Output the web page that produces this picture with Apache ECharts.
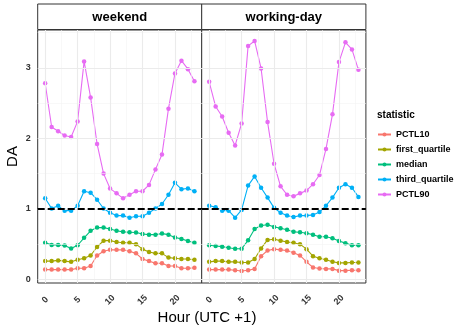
<!DOCTYPE html>
<html><head><meta charset="utf-8">
<script src="https://cdn.jsdelivr.net/npm/echarts@6/dist/echarts.min.js"></script>
<style>html,body{margin:0;padding:0;background:#fff}#c{width:459px;height:330px}</style>
</head><body><div id="c"></div>
<script>
const hours = [0,1,2,3,4,5,6,7,8,9,10,11,12,13,14,15,16,17,18,19,20,21,22,23];
const panels = ['weekend','working-day'];
const statNames = ['PCTL10','first_quartile','median','third_quartile','PCTL90'];
const statColors = ['#F8766D','#A3A500','#00BF7D','#00B0F6','#E76BF3'];
const xTicks = [0,5,10,15,20];
const yTicks = [0,1,2,3];
const refLine = 1;

const weekend_PCTL10 = [0.14,0.14,0.14,0.14,0.14,0.16,0.16,0.19,0.34,0.40,0.42,0.42,0.42,0.40,0.37,0.29,0.26,0.23,0.23,0.19,0.19,0.16,0.16,0.165];
const weekend_first_quartile = [0.26,0.26,0.27,0.26,0.25,0.28,0.30,0.34,0.46,0.55,0.55,0.53,0.52,0.52,0.50,0.43,0.39,0.37,0.37,0.31,0.30,0.29,0.29,0.28];
const weekend_median = [0.52,0.49,0.49,0.48,0.44,0.485,0.59,0.69,0.735,0.735,0.715,0.69,0.675,0.67,0.665,0.645,0.635,0.635,0.65,0.635,0.595,0.575,0.545,0.52];
const weekend_third_quartile = [1.15,1.005,1.045,0.975,0.975,1.045,1.25,1.23,1.13,1.005,0.945,0.905,0.905,0.875,0.895,0.895,0.945,1.005,1.07,1.20,1.37,1.28,1.29,1.25];
const weekend_PCTL90 = [2.78,2.16,2.10,2.04,2.02,2.24,3.09,2.58,1.92,1.50,1.29,1.22,1.15,1.20,1.25,1.25,1.34,1.56,1.77,2.42,2.92,3.10,2.98,2.81];

const working_PCTL10 = [0.14,0.14,0.14,0.14,0.13,0.12,0.13,0.15,0.33,0.41,0.43,0.42,0.41,0.38,0.34,0.25,0.17,0.155,0.15,0.15,0.125,0.125,0.13,0.13];
const working_first_quartile = [0.25,0.26,0.26,0.25,0.25,0.24,0.24,0.29,0.44,0.56,0.57,0.55,0.53,0.52,0.50,0.43,0.33,0.30,0.28,0.25,0.235,0.235,0.24,0.24];
const working_median = [0.485,0.475,0.465,0.45,0.435,0.435,0.555,0.715,0.765,0.775,0.745,0.725,0.705,0.675,0.67,0.655,0.635,0.605,0.605,0.585,0.545,0.515,0.485,0.485];
const working_third_quartile = [1.045,1.025,0.975,0.975,0.875,0.985,1.33,1.46,1.30,1.16,1.015,0.945,0.905,0.885,0.905,0.905,0.915,0.955,1.045,1.16,1.30,1.35,1.30,1.17];
const working_PCTL90 = [2.80,2.45,2.31,2.08,1.90,2.21,3.31,3.38,2.99,2.23,1.64,1.32,1.20,1.18,1.22,1.26,1.35,1.48,1.85,2.34,3.08,3.36,3.26,2.97];

const panelData = [
  [weekend_PCTL10, weekend_first_quartile, weekend_median, weekend_third_quartile, weekend_PCTL90],
  [working_PCTL10, working_first_quartile, working_median, working_third_quartile, working_PCTL90]
];
const majorY = [0,1,2,3], minorY = [0.5,1.5,2.5,3.5];
const majorX = [0,5,10,15,20], minorX = [2.5,7.5,12.5,17.5,22.5];

const FONT = 'Liberation Sans, Arial, sans-serif';
const gridL = [37.7, 201.7], gridW = 164.2, gridTop = 30, gridH = 253;

const chart = echarts.init(document.getElementById('c'), null, {renderer:'canvas'});
const grids = [], xAxes = [], yAxes = [], series = [];
for (let p = 0; p < 2; p++) {
  grids.push({left: gridL[p], top: gridTop, width: gridW, height: gridH, show: true,
    borderColor: '#333', borderWidth: 1, backgroundColor: '#fff'});
  xAxes.push({type:'value', gridIndex:p, min:-1.15, max:24.15,
    axisLine:{show:false}, splitLine:{show:false},
    axisTick:{show:true, customValues: xTicks, length:3.5, lineStyle:{color:'#333'}},
    axisLabel:{customValues: xTicks, rotate:45, margin:17, align:'center', verticalAlign:'middle',
      fontSize:9, fontWeight:'bold', color:'#333', fontFamily:FONT}
  });
  yAxes.push({type:'value', gridIndex:p, min:-0.05, max:3.535,
    axisLine:{show:false}, splitLine:{show:false},
    axisTick:{show:p===0, customValues: yTicks, length:3.5, lineStyle:{color:'#333'}},
    axisLabel:{show:p===0, customValues: yTicks, margin:7, fontSize:9, fontWeight:'bold', color:'#333', fontFamily:FONT},
    name: p===0 ? 'DA' : '', nameLocation:'middle', nameGap:17, nameRotate:90,
    nameTextStyle:{fontSize:15, color:'#000', fontFamily:FONT}
  });
  series.push({type:'line', xAxisIndex:p, yAxisIndex:p, data:[], z:1, silent:true,
    markLine:{silent:true, symbol:'none', label:{show:false}, animation:false,
      data: [
        ...minorY.map(v=>({yAxis:v, lineStyle:{color:'#f3f3f3', width:0.6, type:'solid'}})),
        ...minorX.map(v=>({xAxis:v, lineStyle:{color:'#f3f3f3', width:0.6, type:'solid'}})),
        ...majorY.map(v=>({yAxis:v, lineStyle:{color:'#ebebeb', width:1.1, type:'solid'}})),
        ...majorX.map(v=>({xAxis:v, lineStyle:{color:'#ebebeb', width:1.1, type:'solid'}}))
      ]}
  });
  for (let s = 0; s < statNames.length; s++) {
    series.push({type:'line', name: statNames[s], xAxisIndex:p, yAxisIndex:p, z:3,
      data: hours.map((h,i)=>[h, panelData[p][s][i]]),
      symbol:'circle', symbolSize:4.5, showSymbol:true,
      lineStyle:{width:1.1, color: statColors[s]}, itemStyle:{color: statColors[s], borderWidth:0},
      animation:false});
  }
  series.push({type:'line', xAxisIndex:p, yAxisIndex:p, data:[], z:4, silent:true,
    markLine:{silent:true, symbol:'none', label:{show:false}, animation:false,
      data:[{yAxis: refLine}], lineStyle:{color:'#000', width:2.2, type:[7,3]}}});
}

const option = {
  animation:false,
  color: statColors,
  grid: grids, xAxis: xAxes, yAxis: yAxes, series: series,
  legend: {data: statNames, orient:'vertical', left:372, top:125, itemWidth:13, itemHeight:5, itemGap:6,
    textStyle:{fontSize:9, fontWeight:'bold', color:'#000', fontFamily:FONT}},
  title: [
    {text:'Hour (UTC +1)', left:202, top:305, textAlign:'center',
      textStyle:{fontSize:15, fontWeight:'normal', color:'#000', fontFamily:FONT}},
    {text:'statistic', left:372, top:105,
      textStyle:{fontSize:10, fontWeight:'bold', color:'#000', fontFamily:FONT}}
  ],
  graphic: [
    {type:'rect', shape:{x:gridL[0], y:4, width:gridW, height:25.5}, style:{fill:'#fff', stroke:'#333', lineWidth:1}},
    {type:'rect', shape:{x:gridL[1], y:4, width:gridW, height:25.5}, style:{fill:'#fff', stroke:'#333', lineWidth:1}},
    {type:'text', x:gridL[0]+gridW/2, y:17, style:{text:panels[0], align:'center', verticalAlign:'middle', font:'bold 13px '+FONT, fill:'#000'}},
    {type:'text', x:gridL[1]+gridW/2, y:17, style:{text:panels[1], align:'center', verticalAlign:'middle', font:'bold 13px '+FONT, fill:'#000'}}
  ]
};
chart.setOption(option);
</script></body></html>
